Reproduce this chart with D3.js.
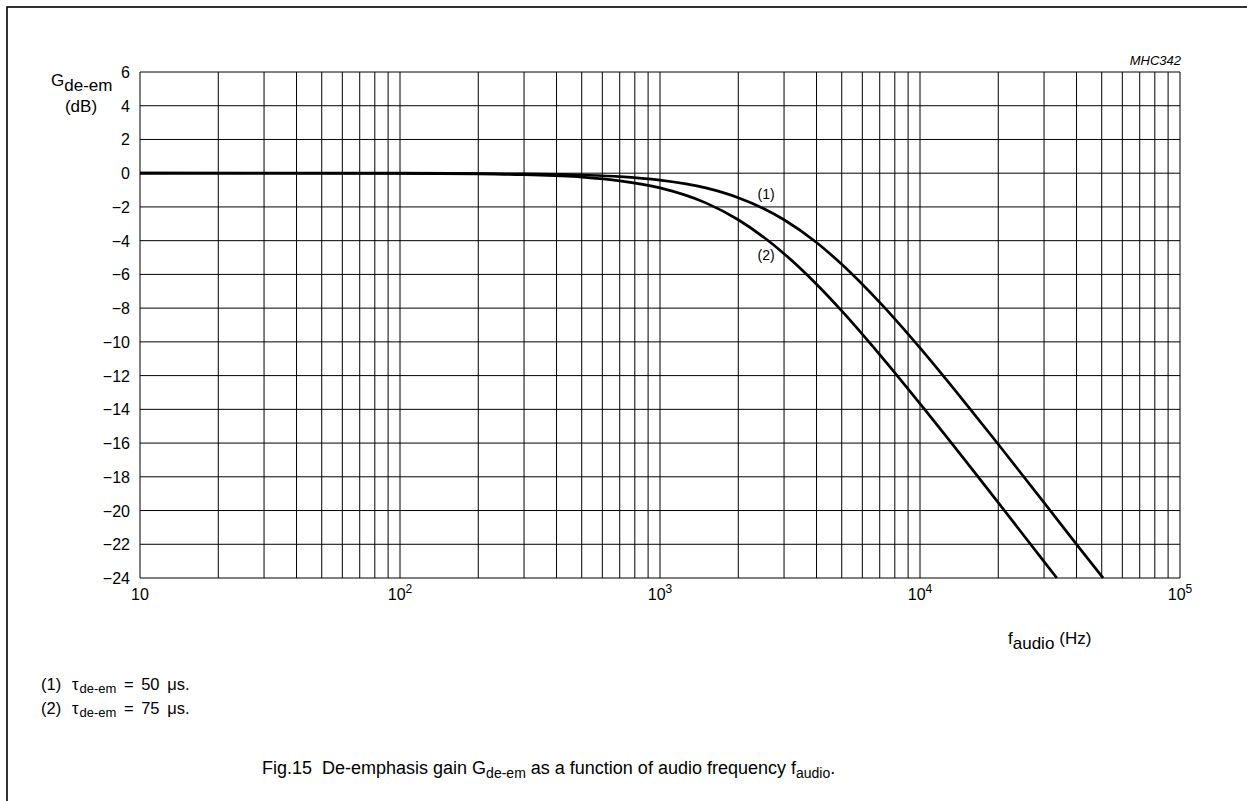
<!DOCTYPE html>
<html><head><meta charset="utf-8">
<script src="https://cdn.jsdelivr.net/npm/d3@7/dist/d3.min.js"></script>
<style>body{margin:0;background:#fff}svg{display:block}text{font-family:"Liberation Sans",Arial,sans-serif;fill:#000;white-space:pre}</style>
</head><body>
<script>
// Data
const freq1 = [10,100,200,300,500,700,1000,1500,2000,2500,3000,4000,5000,7000,10000,15000,20000,30000,40000,50600];
const gain1 = [0,0,-0.02,-0.04,-0.11,-0.2,-0.41,-0.87,-1.45,-2.09,-2.76,-4.11,-5.4,-7.66,-10.36,-13.66,-16.07,-19.53,-22.01,-24];
const freq2 = [10,100,200,300,500,700,1000,1500,2000,3000,4000,5000,7000,10000,15000,20000,30000,33600];
const gain2 = [0,-0.01,-0.04,-0.09,-0.23,-0.45,-0.87,-1.76,-2.76,-4.77,-6.58,-8.16,-10.75,-13.66,-17.07,-19.53,-23.03,-24];
const yTicks = [6,4,2,0,-2,-4,-6,-8,-10,-12,-14,-16,-18,-20,-22,-24];
const xTickLabels = [{v:10,b:"10",e:""},{v:100,b:"10",e:"2"},{v:1000,b:"10",e:"3"},{v:10000,b:"10",e:"4"},{v:100000,b:"10",e:"5"}];
const curveLabels = [{t:"(1)",f:2560,g:-1.55},{t:"(2)",f:2560,g:-5.15}];

const W=1247,H=801;
const svg=d3.select("body").append("svg").attr("width",W).attr("height",H);
svg.append("rect").attr("x",7).attr("y",7).attr("width",W+10).attr("height",H+10).attr("fill","none").attr("stroke","#000").attr("stroke-width",1.6);

const L=140,R=1180,T=72,B=578;
const x=d3.scaleLog().domain([10,100000]).range([L,R]);
const y=d3.scaleLinear().domain([-24,6]).range([B,T]);

const g=svg.append("g");
// vertical grid
const vt=[];
for(let d=10;d<100000;d*=10){for(let k=1;k<=9;k++)vt.push(d*k);} vt.push(100000);
g.selectAll("line.v").data(vt).enter().append("line")
 .attr("x1",d=>x(d)).attr("x2",d=>x(d)).attr("y1",T).attr("y2",B)
 .attr("stroke","#000").attr("stroke-width",1);
g.selectAll("line.h").data(yTicks).enter().append("line")
 .attr("x1",L).attr("x2",R).attr("y1",d=>y(d)).attr("y2",d=>y(d))
 .attr("stroke","#000").attr("stroke-width",1);

// y tick labels
g.selectAll("text.yt").data(yTicks).enter().append("text")
 .attr("x",L-10).attr("y",d=>y(d)+6).attr("text-anchor","end").attr("font-size",16)
 .text(d=>d<0?"\u2212"+Math.abs(d):d);

// x tick labels
xTickLabels.forEach(d=>{
 const t=g.append("text").attr("x",x(d.v)).attr("y",B+22).attr("text-anchor","middle").attr("font-size",16);
 t.append("tspan").text(d.b);
 if(d.e) t.append("tspan").attr("font-size",12).attr("dy",-7).text(d.e);
});

// curves
const line=d3.line().x(d=>x(d[0])).y(d=>y(d[1])).curve(d3.curveMonotoneX);
[[freq1,gain1],[freq2,gain2]].forEach(([f,gg])=>{
 g.append("path").datum(f.map((v,i)=>[v,gg[i]])).attr("d",line)
  .attr("fill","none").attr("stroke","#000").attr("stroke-width",2.7);
});
curveLabels.forEach(c=>{
 g.append("text").attr("x",x(c.f)).attr("y",y(c.g)).attr("text-anchor","middle").attr("font-size",14).text(c.t);
});

// axis titles
const yt=svg.append("text").attr("x",51).attr("y",86).attr("font-size",17);
yt.append("tspan").text("G");
yt.append("tspan").attr("dy",5).text("de-em");
svg.append("text").attr("x",81).attr("y",112).attr("text-anchor","middle").attr("font-size",17).text("(dB)");

const xt=svg.append("text").attr("x",1008).attr("y",644).attr("font-size",17);
xt.append("tspan").text("f");
xt.append("tspan").attr("dy",5).text("audio");
xt.append("tspan").attr("dy",-5).attr("dx",5).attr("font-size",17).text("(Hz)");

svg.append("text").attr("x",1181).attr("y",65).attr("text-anchor","end").attr("font-size",13).attr("font-style","italic").text("MHC342");

// legend notes
[["(1)","50"],["(2)","75"]].forEach((d,i)=>{
 const yy=690+i*24;
 svg.append("text").attr("x",41).attr("y",yy).attr("font-size",16.5).text(d[0]);
 const t=svg.append("text").attr("x",72).attr("y",yy).attr("font-size",16.5).attr("word-spacing",3);
 t.append("tspan").text("\u03C4");
 t.append("tspan").attr("font-size",13).attr("dy",3).attr("dx",1).text("de-em");
 t.append("tspan").attr("dy",-3).text(" = "+d[1]+" \u03BCs.");
});

// caption
const cap=svg.append("text").attr("x",262).attr("y",774).attr("font-size",18);
cap.append("tspan").text("Fig.15\u00A0\u00A0De-emphasis gain G");
cap.append("tspan").attr("font-size",14).attr("dy",4).text("de-em");
cap.append("tspan").attr("dy",-4).text(" as a function of audio frequency f");
cap.append("tspan").attr("font-size",14).attr("dy",4).text("audio");
cap.append("tspan").attr("dy",-4).text(".");
</script>
</body></html>
